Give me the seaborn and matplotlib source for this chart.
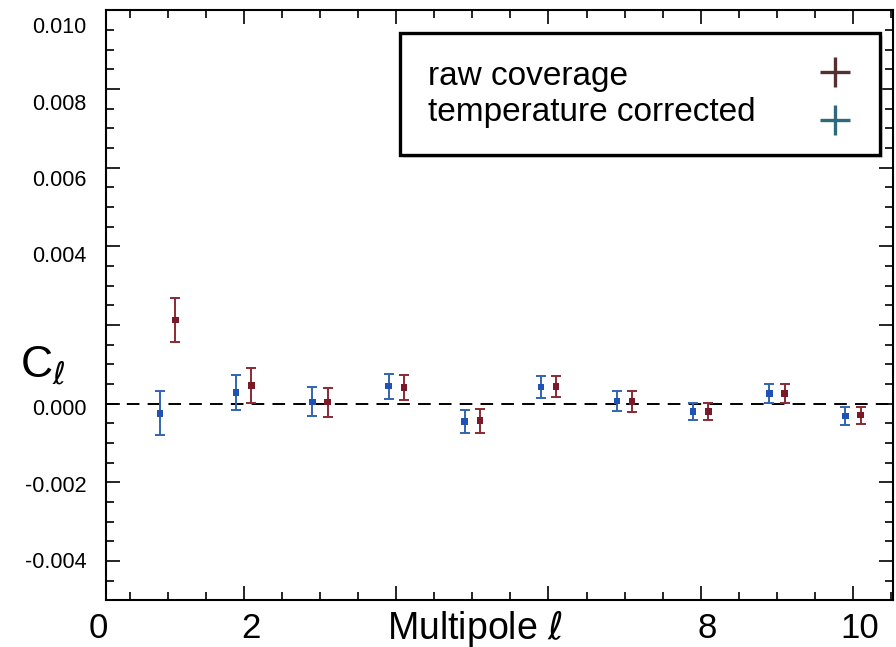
import numpy as np
import pandas as pd
import matplotlib
matplotlib.use("Agg")
import matplotlib.pyplot as plt
import matplotlib.transforms as mtransforms
from matplotlib.patches import Rectangle
from matplotlib.ticker import MultipleLocator
import seaborn as sns

# ---------------- data ----------------
ell = [1, 2, 3, 4, 5, 6, 7, 8, 9, 10]
raw_cl = [0.00213, 0.00046, 0.00004, 0.00041, -0.00043, 0.00044, 0.00006, -0.00019, 0.00026, -0.00029]
raw_err = [0.00057, 0.00045, 0.00037, 0.00032, 0.00031, 0.00027, 0.00026, 0.00022, 0.00024, 0.00022]
corr_cl = [-0.00024, 0.00029, 0.00005, 0.00045, -0.00045, 0.00043, 0.00007, -0.00019, 0.00026, -0.00031]
corr_err = [0.00056, 0.00044, 0.00037, 0.00032, 0.00029, 0.00027, 0.00026, 0.00022, 0.00024, 0.00022]
series_names = ["raw coverage", "temperature corrected"]
x_tick_vals = [0, 2, 8, 10]
x_tick_labels = ["0", "2", "8", "10"]
y_tick_vals = [0.010, 0.008, 0.006, 0.004, 0.000, -0.002, -0.004]
y_tick_labels = ["0.010", "0.008", "0.006", "0.004", "0.000", "-0.002", "-0.004"]
x_title = "Multipole $\\ell$"
y_title = "C$_{\\ell}$"

# ---------------- style ----------------
sns.set_theme(style="ticks")
plt.rcParams['font.family'] = ['Liberation Sans', 'DejaVu Sans']
plt.rcParams['mathtext.fontset'] = 'dejavusans'
plt.rcParams['text.color'] = 'black'

raw_color = "#8a2a34"
raw_mcolor = "#7a1a28"
corr_color = "#3264b2"
corr_mcolor = "#1f52b4"

fig = plt.figure(figsize=(8.96, 6.47), dpi=100)
ax = fig.add_axes([0.1183, 0.0719, 0.8780, 0.9119])

offset = 0.1
df = pd.DataFrame({
    "x": [l + offset for l in ell] + [l - offset for l in ell],
    "cl": raw_cl + corr_cl,
    "err": raw_err + corr_err,
    "series": [series_names[0]] * len(ell) + [series_names[1]] * len(ell),
})

ax.axhline(0, color="black", lw=1.4, dashes=(6.5, 4.2), zorder=1)

for name, ecol in zip(series_names, [raw_color, corr_color]):
    sub = df[df.series == name]
    ax.errorbar(sub.x, sub.cl, yerr=sub.err, fmt="none", ecolor=ecol,
                elinewidth=1.4, capsize=3.8, capthick=1.4, zorder=3)

sns.scatterplot(data=df, x="x", y="cl", hue="series",
                palette={series_names[0]: raw_mcolor, series_names[1]: corr_mcolor},
                marker="s", s=22, linewidth=0, legend=False, ax=ax, zorder=4)

ax.set_xlim(0.19, 10.52)
ax.set_ylim(-0.005, 0.010)
ax.xaxis.set_major_locator(MultipleLocator(2))
ax.xaxis.set_minor_locator(MultipleLocator(0.5))
ax.yaxis.set_major_locator(MultipleLocator(0.002))
ax.yaxis.set_minor_locator(MultipleLocator(0.0005))
ax.tick_params(which="both", direction="in", top=True, right=True,
               labelbottom=False, labelleft=False, color="black", width=1.2)
ax.tick_params(which="major", length=10)
ax.tick_params(which="minor", length=5.5)
for sp in ax.spines.values():
    sp.set_color("black")
    sp.set_linewidth(1.5)
ax.set_xlabel("")
ax.set_ylabel("")

# y tick labels (slightly offset, as in the original figure)
ytr = mtransforms.blended_transform_factory(ax.transAxes, ax.transData)
for v, lab in zip(y_tick_vals, y_tick_labels):
    ax.text(-0.025, 0.9708 * v - 0.00015, lab, transform=ytr, ha="right",
            va="center", fontsize=15.5, color="black", clip_on=False)

# x tick labels
xtr = mtransforms.blended_transform_factory(ax.transData, ax.transAxes)
for v, lab in zip(x_tick_vals, x_tick_labels):
    ax.text(v + 0.09, -0.047, lab, transform=xtr, ha="center", va="center",
            fontsize=25, color="black", clip_on=False)
ax.text(5.03, -0.047, x_title, transform=xtr, ha="center", va="center",
        fontsize=27, color="black", clip_on=False)

fig.text(0.022, 0.416, y_title, fontsize=32, ha="left", va="baseline", color="black")

# legend box (drawn manually to match the layout)
shadow = Rectangle((0.3737 + 0.004, 0.7557 - 0.006), 0.6102, 0.2065,
                   transform=ax.transAxes, facecolor="#999999", edgecolor="none",
                   alpha=0.35, zorder=5)
box = Rectangle((0.3737, 0.7557), 0.6102, 0.2065, transform=ax.transAxes,
                facecolor="white", edgecolor="black", lw=2.4, zorder=6)
ax.add_patch(shadow)
ax.add_patch(box)
ax.text(0.409, 0.8745, series_names[0], transform=ax.transAxes, fontsize=24,
        ha="left", va="baseline", color="black", zorder=7)
ax.text(0.409, 0.8122, series_names[1], transform=ax.transAxes, fontsize=24,
        ha="left", va="baseline", color="black", zorder=7)
ax.plot([0.9267], [0.8965], marker="+", ms=22, mew=2.4, color="#553030",
        transform=ax.transAxes, zorder=7, clip_on=False)
ax.plot([0.9267], [0.8151], marker="+", ms=22, mew=2.4, color="#2f6a7c",
        transform=ax.transAxes, zorder=7, clip_on=False)

fig.savefig("out.png", dpi=100)
